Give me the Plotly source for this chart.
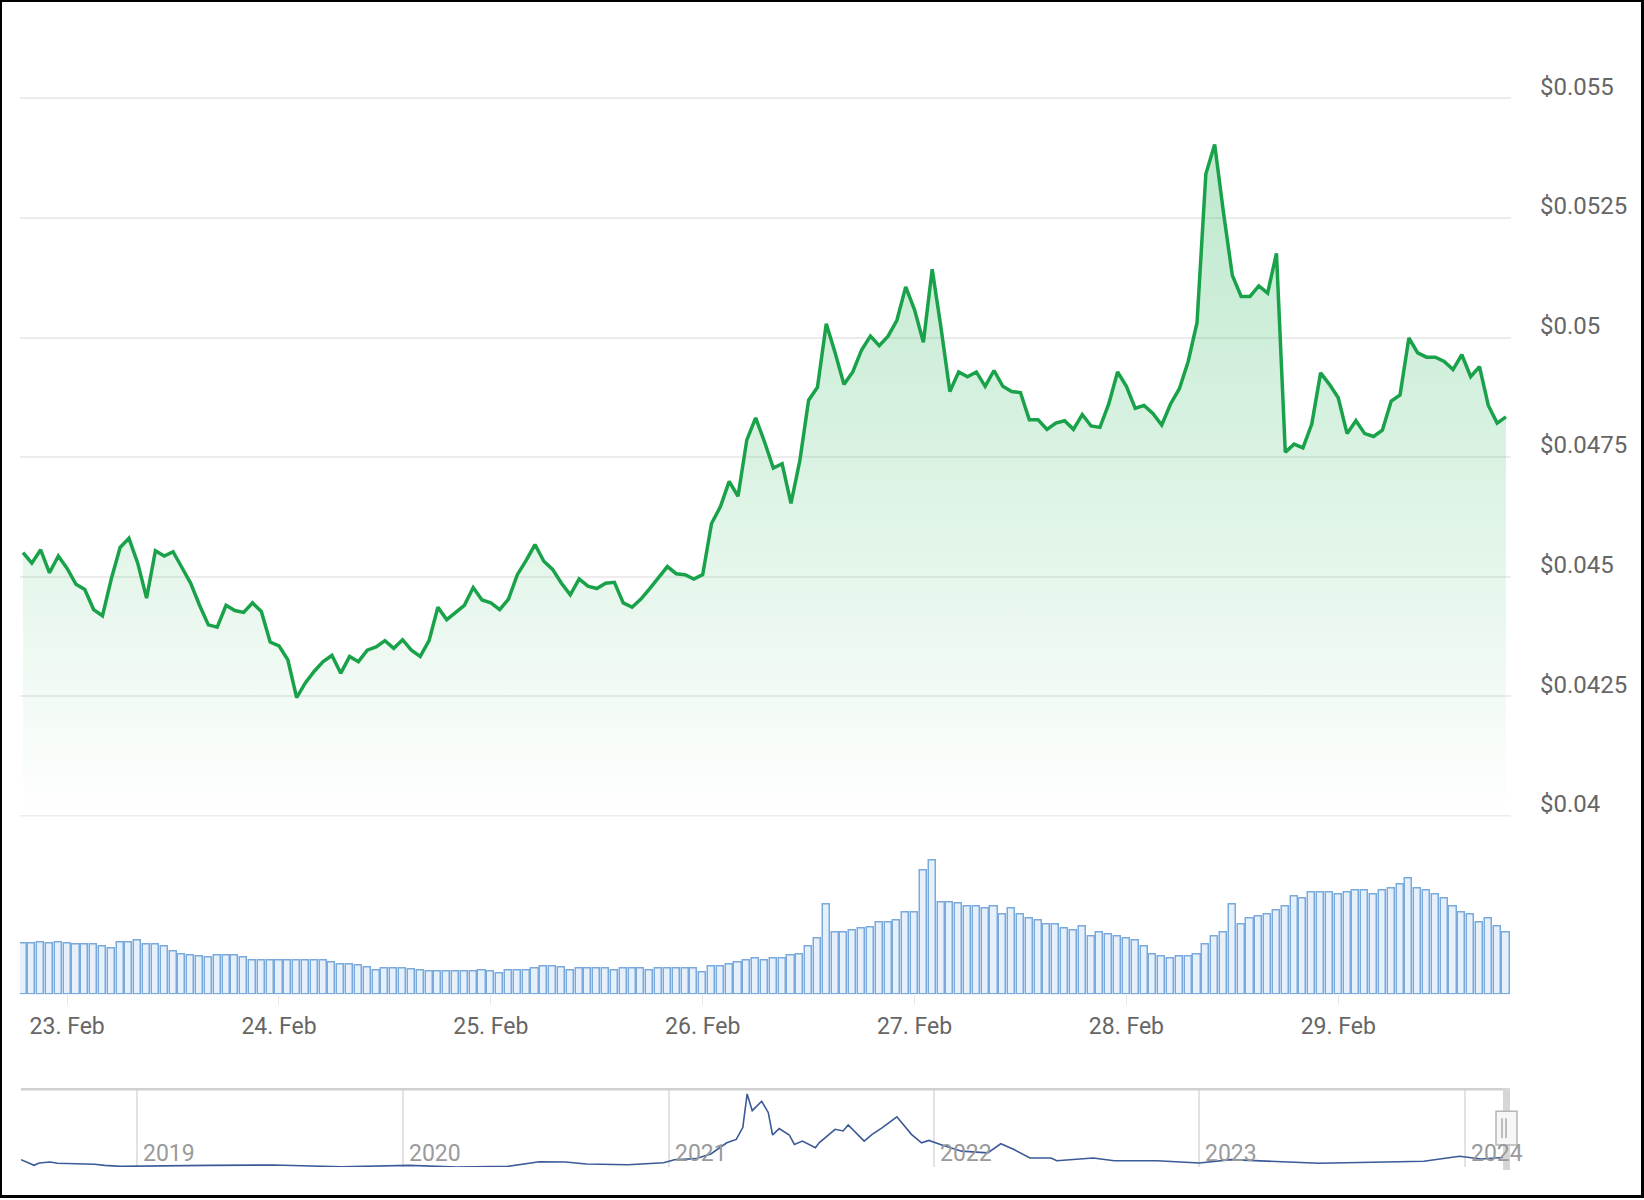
import plotly.graph_objects as go
import pandas as pd

W, H = 1644, 1200

# ---------------- data ----------------
price_start = "2024-02-22 19:00"
prices = [
    0.04550, 0.04528, 0.04556, 0.04508, 0.04543, 0.04517, 0.04484, 0.04473, 0.04431, 0.04418,
    0.04495, 0.04561, 0.04580, 0.04528, 0.04455, 0.04554, 0.04543, 0.04552, 0.04519, 0.04486,
    0.04440, 0.04399, 0.04394, 0.04440, 0.04429, 0.04425, 0.04445, 0.04427, 0.04363, 0.04355,
    0.04326, 0.04247, 0.04278, 0.04302, 0.04322, 0.04335, 0.04298, 0.04333, 0.04322, 0.04346,
    0.04353, 0.04366, 0.04350, 0.04368, 0.04346, 0.04333, 0.04366, 0.04436, 0.04410, 0.04425,
    0.04440, 0.04477, 0.04451, 0.04445, 0.04431, 0.04453, 0.04504, 0.04534, 0.04567, 0.04532,
    0.04515, 0.04486, 0.04462, 0.04495, 0.04480, 0.04475, 0.04486, 0.04488, 0.04445, 0.04436,
    0.04453, 0.04475, 0.04497, 0.04521, 0.04506, 0.04504, 0.04495, 0.04504, 0.04611, 0.04646,
    0.04699, 0.04668, 0.04786, 0.04832, 0.04782, 0.04727, 0.04736, 0.04653, 0.04742, 0.04869,
    0.04896, 0.05029, 0.04968, 0.04902, 0.04928, 0.04974, 0.05003, 0.04983, 0.05003, 0.05036,
    0.05106, 0.05058, 0.04990, 0.05143, 0.05020, 0.04887, 0.04928, 0.04918, 0.04928, 0.04898,
    0.04931, 0.04898, 0.04887, 0.04885, 0.04828, 0.04828, 0.04808, 0.04821, 0.04826, 0.04808,
    0.04839, 0.04815, 0.04812, 0.04861, 0.04928, 0.04898, 0.04852, 0.04858, 0.04841, 0.04817,
    0.04861, 0.04893, 0.04950, 0.05031, 0.05342, 0.05404, 0.05261, 0.05130, 0.05086, 0.05086,
    0.05108, 0.05093, 0.05176, 0.04760, 0.04777, 0.04769, 0.04819, 0.04926, 0.04902, 0.04874,
    0.04799, 0.04826, 0.04799, 0.04793, 0.04806, 0.04867, 0.04880, 0.04999, 0.04968, 0.04959,
    0.04959, 0.04950, 0.04933, 0.04964, 0.04918, 0.04939, 0.04858, 0.04821, 0.04834,
]

volumes_musd = [
    5.07, 5.07, 5.23, 5.07, 5.20, 5.07, 5.03, 5.03, 5.00, 4.83,
    4.63, 5.17, 5.23, 5.40, 5.03, 5.00, 4.80, 4.23, 4.00, 3.83,
    3.73, 3.67, 3.83, 3.83, 3.83, 3.63, 3.40, 3.40, 3.40, 3.40,
    3.40, 3.40, 3.40, 3.40, 3.37, 3.17, 3.00, 3.00, 2.83, 2.63,
    2.40, 2.60, 2.60, 2.57, 2.43, 2.33, 2.23, 2.23, 2.23, 2.23,
    2.23, 2.23, 2.40, 2.23, 2.03, 2.37, 2.40, 2.40, 2.57, 2.80,
    2.80, 2.63, 2.40, 2.57, 2.57, 2.57, 2.57, 2.40, 2.57, 2.57,
    2.57, 2.40, 2.57, 2.57, 2.57, 2.57, 2.57, 2.17, 2.80, 2.80,
    3.00, 3.17, 3.37, 3.57, 3.40, 3.57, 3.57, 3.83, 3.97, 4.80,
    5.63, 9.00, 6.20, 6.20, 6.40, 6.57, 6.73, 7.17, 7.17, 7.40,
    8.17, 8.17, 12.40, 13.40, 9.23, 9.23, 9.07, 8.83, 8.83, 8.63,
    8.83, 8.00, 8.63, 8.00, 7.57, 7.40, 7.00, 7.00, 6.63, 6.40,
    6.83, 5.80, 6.20, 6.03, 5.80, 5.63, 5.40, 4.80, 3.97, 3.80,
    3.57, 3.80, 3.80, 3.97, 5.00, 5.83, 6.20, 9.00, 7.00, 7.63,
    7.80, 8.00, 8.40, 8.83, 9.80, 9.63, 10.23, 10.23, 10.23, 9.97,
    10.23, 10.40, 10.40, 9.97, 10.40, 10.63, 10.97, 11.57, 10.63, 10.40,
    9.97, 9.63, 8.83, 8.17, 7.97, 7.20, 7.63, 6.80, 6.20,
]

price_ticks = [0.04, 0.0425, 0.045, 0.0475, 0.05, 0.0525, 0.055]
price_tick_text = ["$0.04", "$0.0425", "$0.045", "$0.0475", "$0.05", "$0.0525", "$0.055"]

nav_dates = [
    "2018-07-25", "2018-08-12", "2018-08-19", "2018-09-03", "2018-09-13", "2018-11-03",
    "2018-11-17", "2018-12-09", "2019-04-11", "2019-07-07", "2019-10-09", "2020-01-10",
    "2020-03-15", "2020-05-25", "2020-07-07", "2020-08-12", "2020-09-10", "2020-11-06",
    "2020-12-25", "2021-01-09", "2021-02-07", "2021-02-28", "2021-03-22", "2021-04-04",
    "2021-04-13", "2021-04-19", "2021-04-26", "2021-05-09", "2021-05-18", "2021-05-24",
    "2021-06-02", "2021-06-16", "2021-06-23", "2021-07-04", "2021-07-22", "2021-07-27",
    "2021-08-18", "2021-08-29", "2021-09-05", "2021-09-27", "2021-10-08", "2021-10-22",
    "2021-11-11", "2021-12-01", "2021-12-15", "2021-12-25", "2022-01-10", "2022-02-08",
    "2022-03-16", "2022-04-03", "2022-04-21", "2022-05-13", "2022-06-11", "2022-06-19",
    "2022-08-08", "2022-09-06", "2022-11-04", "2023-01-01", "2023-02-14", "2023-04-05",
    "2023-06-15", "2023-08-27", "2023-11-06", "2023-12-25", "2024-01-24", "2024-02-29",
]
nav_prices = [
    0.0373, 0.0125, 0.0227, 0.0272, 0.0214, 0.0170,
    0.0125, 0.0081, 0.0125, 0.0139, 0.0063, 0.0125,
    0.0050, 0.0081, 0.0285, 0.0272, 0.0183, 0.0152,
    0.0240, 0.0373, 0.0418, 0.0626, 0.1113, 0.1259,
    0.1778, 0.3253, 0.2518, 0.2930, 0.2442, 0.1454,
    0.1733, 0.1454, 0.1038, 0.1189, 0.0892, 0.1113,
    0.1702, 0.1632, 0.1897, 0.1189, 0.1481, 0.1778,
    0.2252, 0.1481, 0.1113, 0.1215, 0.1038, 0.0746,
    0.0670, 0.1069, 0.0816, 0.0449, 0.0449, 0.0329,
    0.0449, 0.0329, 0.0329, 0.0227, 0.0373, 0.0303,
    0.0214, 0.0258, 0.0303, 0.0524, 0.0404, 0.0483,
]
nav_years = ["2019", "2020", "2021", "2022", "2023", "2024"]

# ---------------- helpers ----------------
def px(x):
    return x / W

def py(y):
    return 1 - y / H

times = pd.date_range(price_start, periods=len(prices), freq="h")
t0 = times[0] - pd.Timedelta(hours=0.34)
t1 = times[-1] + pd.Timedelta(hours=0.57)

GREEN = "#19a24a"
FONT = "Roboto"

fig = go.Figure()

fig.add_trace(go.Scatter(
    x=times, y=prices, mode="lines",
    line=dict(color=GREEN, width=3.5),
    fill="tozeroy",
    fillgradient=dict(
        type="vertical",
        colorscale=[[0, "rgba(40,180,90,0)"], [0.3, "rgba(40,180,90,0.10)"],
                    [0.6, "rgba(40,180,90,0.19)"], [1, "rgba(40,180,90,0.30)"]],
        start=0.0400, stop=0.0540,
    ),
    xaxis="x", yaxis="y", hoverinfo="skip", showlegend=False,
))

fig.add_trace(go.Bar(
    x=times, y=volumes_musd,
    marker=dict(color="#e6f0fb", line=dict(color="#7aaadc", width=1.5)),
    width=0.8 * 3600 * 1000,
    xaxis="x2", yaxis="y2", hoverinfo="skip", showlegend=False,
))

fig.add_trace(go.Scatter(
    x=pd.to_datetime(nav_dates), y=nav_prices, mode="lines",
    line=dict(color="#3a5a98", width=1.6),
    xaxis="x3", yaxis="y3", hoverinfo="skip", showlegend=False,
))

fig.update_layout(
    width=W, height=H,
    margin=dict(l=0, r=0, t=0, b=0),
    paper_bgcolor="white", plot_bgcolor="rgba(0,0,0,0)",
    font=dict(family=FONT, color="#666666"),
    bargap=0,
    xaxis=dict(domain=[px(20), px(1511)], anchor="y", type="date",
               range=[t0, t1], showticklabels=False, showgrid=False,
               zeroline=False, showline=False),
    yaxis=dict(domain=[py(817), py(26.8)], anchor="x", range=[0.04, 0.0565],
               side="right", tickvals=price_ticks, ticktext=price_tick_text,
               showgrid=True, gridcolor="#ececec", gridwidth=1.5,
               zeroline=False, showline=False, ticks="",
               ticklabelstandoff=28, ticklabelshift=-12,
               tickfont=dict(family=FONT, size=24, color="#666666")),
    xaxis2=dict(domain=[px(20), px(1511)], anchor="y2", type="date",
                matches="x", range=[t0, t1],
                tick0="2024-02-23", dtick=86400000, tickformat="%-d. %b",
                ticks="outside", ticklen=10, tickcolor="#e8e8e8", tickwidth=1,
                ticklabelstandoff=1,
                showgrid=False, zeroline=False, showline=False,
                tickfont=dict(family=FONT, size=23, color="#666666")),
    yaxis2=dict(domain=[py(996), py(830)], anchor="x2", range=[0, 16.6],
                visible=False),
    xaxis3=dict(domain=[px(21), px(1506)], anchor="y3", type="date",
                range=["2018-07-25", "2024-02-27"],
                tick0="2019-01-01", dtick="M12", showticklabels=False,
                showgrid=True, gridcolor="#e2e2e2", gridwidth=1.5,
                zeroline=False, showline=False, ticks=""),
    yaxis3=dict(domain=[py(1169), py(1091)], anchor="x3", range=[0.005, 0.346],
                visible=False),
)

annotations = []
for yr in nav_years:
    annotations.append(dict(
        x=f"{yr}-01-01", xref="x3", xanchor="left", xshift=4,
        y=py(1155), yref="paper", yanchor="middle",
        text=yr, showarrow=False,
        font=dict(family=FONT, size=23, color="#9a9a9a"),
    ))
fig.update_layout(annotations=annotations)

shapes = [
    # faint gridline at the bottom of the price panel
    dict(type="line", xref="x domain", yref="paper", x0=0, x1=1,
         y0=py(817), y1=py(817), line=dict(color="#ececec", width=1.5)),
    # navigator top outline
    dict(type="line", xref="x3 domain", yref="paper", x0=0, x1=1,
         y0=py(1091), y1=py(1091), line=dict(color="#d0d0d0", width=2.5)),
    # navigator selected window band
    dict(type="rect", xref="paper", yref="paper", x0=px(1503), x1=px(1510),
         y0=py(1172), y1=py(1090), fillcolor="#d6d6d6", line=dict(width=0)),
    # navigator handle
    dict(type="rect", xref="paper", yref="paper", x0=px(1496), x1=px(1517),
         y0=py(1147), y1=py(1113), fillcolor="#f6f6f6",
         line=dict(color="#b5b5b5", width=1.5)),
    dict(type="line", xref="paper", yref="paper", x0=px(1502), x1=px(1502),
         y0=py(1140), y1=py(1120), line=dict(color="#a8a8a8", width=1.5)),
    dict(type="line", xref="paper", yref="paper", x0=px(1506), x1=px(1506),
         y0=py(1140), y1=py(1120), line=dict(color="#a8a8a8", width=1.5)),
    # black frame
    dict(type="rect", xref="paper", yref="paper", x0=0, x1=px(2), y0=0, y1=1,
         fillcolor="black", line=dict(width=0), layer="above"),
    dict(type="rect", xref="paper", yref="paper", x0=0, x1=1, y0=py(2), y1=1,
         fillcolor="black", line=dict(width=0), layer="above"),
    dict(type="rect", xref="paper", yref="paper", x0=px(1641), x1=1, y0=0, y1=1,
         fillcolor="black", line=dict(width=0), layer="above"),
    dict(type="rect", xref="paper", yref="paper", x0=0, x1=1, y0=0, y1=py(1197),
         fillcolor="black", line=dict(width=0), layer="above"),
]
fig.update_layout(shapes=shapes)

post = (
    "var d=document.documentElement,b=document.body;"
    "d.style.margin='0';d.style.padding='0';b.style.margin='0';b.style.padding='0';"
    "d.style.overflow='hidden';b.style.overflow='hidden';"
    "d.style.height='1200px';b.style.height='1200px';"
)
fig.write_html("out.html", post_script=post)
